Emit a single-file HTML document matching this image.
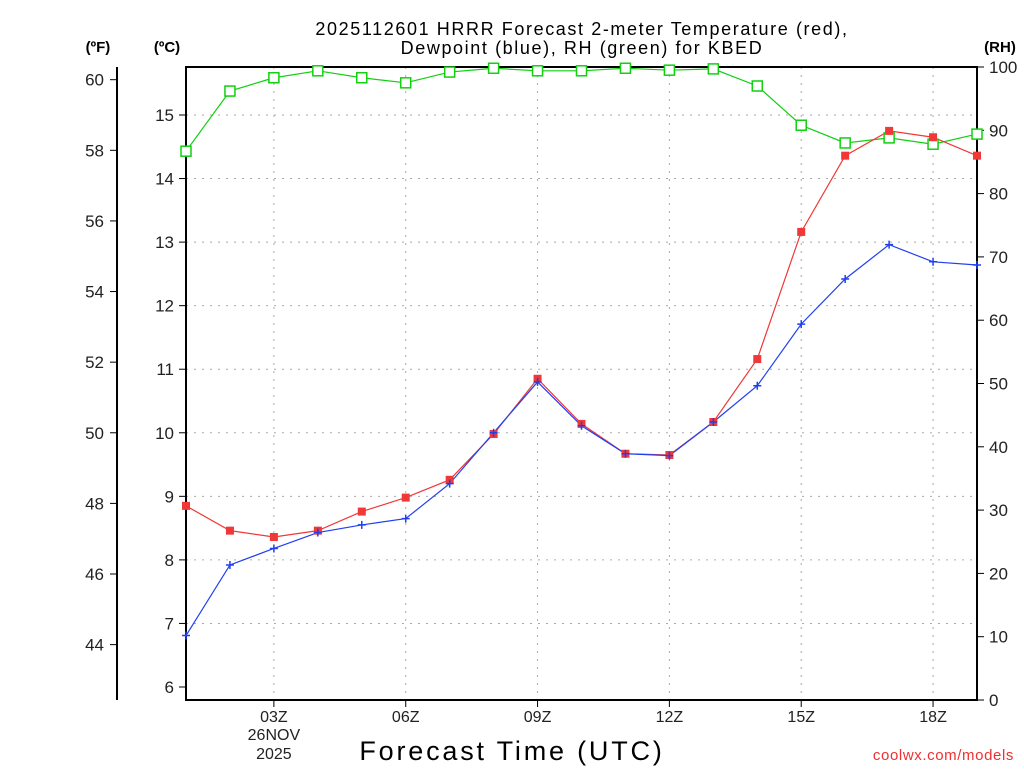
<!DOCTYPE html>
<html><head><meta charset="utf-8"><style>
body{margin:0;background:#fff;width:1024px;height:768px;overflow:hidden}
svg text{font-family:"Liberation Sans",sans-serif}
</style></head><body>
<svg id="chart" width="1024" height="768" xmlns="http://www.w3.org/2000/svg">
<text x="582" y="35" text-anchor="middle" font-size="18" letter-spacing="1.6" fill="#000">2025112601 HRRR Forecast 2-meter Temperature (red),</text>
<text x="582" y="54" text-anchor="middle" font-size="18" letter-spacing="1.6" fill="#000">Dewpoint (blue), RH (green) for KBED</text>
<text x="98" y="52" text-anchor="middle" font-size="15" font-weight="bold">(ºF)</text>
<text x="167" y="52" text-anchor="middle" font-size="15" font-weight="bold">(ºC)</text>
<text x="1000" y="52" text-anchor="middle" font-size="15" font-weight="bold">(RH)</text>
<text x="512" y="760" text-anchor="middle" font-size="27" letter-spacing="2.8">Forecast Time (UTC)</text>
<text x="1014" y="760" text-anchor="end" font-size="15" letter-spacing="0.6" fill="#f03030">coolwx.com/models</text>
<g id="grid"></g><g id="axes"></g><g id="series"></g>
</svg>
<script>
const hours=[1,2,3,4,5,6,7,8,9,10,11,12,13,14,15,16,17,18,19];
const tempC=[8.85,8.46,8.36,8.46,8.76,8.98,9.26,9.98,10.85,10.14,9.67,9.65,10.17,11.16,13.16,14.36,14.75,14.65,14.36];
const dewC=[6.81,7.92,8.18,8.43,8.55,8.65,9.2,10.0,10.8,10.11,9.67,9.64,10.17,10.74,11.71,12.42,12.96,12.69,12.64];
const rh=[86.7,96.2,98.3,99.4,98.3,97.5,99.2,99.8,99.4,99.4,99.8,99.5,99.7,97,90.8,88,88.8,87.8,89.4];
const xTickHours=[3,6,9,12,15,18];
const xTickLabels=["03Z","06Z","09Z","12Z","15Z","18Z"];
const cTicks=[6,7,8,9,10,11,12,13,14,15];
const fTicks=[44,46,48,50,52,54,56,58,60];
const rhTicks=[0,10,20,30,40,50,60,70,80,90,100];
const L=186,R=977,T=67,B=700;
const xs=h=>L+(h-1)*(R-L)/18;
const yC=c=>115-(c-15)*63.555;
const yF=f=>yC((f-32)*5/9);
const yR=r=>B-r*(B-T)/100;
const NS="http://www.w3.org/2000/svg";
function mk(p,tag,a){const e=document.createElementNS(NS,tag);for(const k in a)e.setAttribute(k,a[k]);p.appendChild(e);return e;}
const grid=document.getElementById('grid'),axes=document.getElementById('axes'),ser=document.getElementById('series');
cTicks.forEach(c=>{if(c>6){const l=mk(grid,'line',{x1:L,x2:R,y1:yC(c),y2:yC(c),stroke:'#aaa','stroke-dasharray':'2,6'});}
 mk(axes,'line',{x1:L-7,x2:L,y1:yC(c),y2:yC(c),stroke:'#000'});
 const t=mk(axes,'text',{x:L-12,y:yC(c)+6,'text-anchor':'end','font-size':'17',fill:'#222'});t.textContent=c;
 });
xTickHours.forEach((h,i)=>{const l=mk(grid,'line',{x1:xs(h),x2:xs(h),y1:T,y2:B,stroke:'#aaa','stroke-dasharray':'2,6'});
 
 mk(axes,'line',{x1:xs(h),x2:xs(h),y1:B,y2:B+7,stroke:'#000'});
 const t=mk(axes,'text',{x:xs(h),y:B+22,'text-anchor':'middle','font-size':'16',fill:'#222'});t.textContent=xTickLabels[i];
 });
[["26NOV",740],["2025",759]].forEach(d=>{const t=mk(axes,'text',{x:xs(3),y:d[1],'text-anchor':'middle','font-size':'16',fill:'#222'});t.textContent=d[0];
 });
fTicks.forEach(f=>{mk(axes,'line',{x1:110,x2:117,y1:yF(f),y2:yF(f),stroke:'#000'});
 const t=mk(axes,'text',{x:104,y:yF(f)+6,'text-anchor':'end','font-size':'17',fill:'#222'});t.textContent=f;
 });
rhTicks.forEach(r=>{mk(axes,'line',{x1:R,x2:R+7,y1:yR(r),y2:yR(r),stroke:'#000'});
 const t=mk(axes,'text',{x:R+12,y:yR(r)+6,'font-size':'17',fill:'#222'});t.textContent=r;
 });
mk(axes,'line',{x1:117,x2:117,y1:T,y2:B,stroke:'#000','stroke-width':2});
const fr=mk(axes,'rect',{x:L,y:T,width:R-L,height:B-T,fill:'none',stroke:'#000','stroke-width':2});

function line(vals,yf,col,name){const p=mk(ser,'polyline',{points:vals.map((v,i)=>xs(hours[i])+','+yf(v)).join(' '),fill:'none',stroke:col,'stroke-width':1.2});
 }
line(rh,yR,'#10d010','rh-line');line(tempC,yC,'#f03838','temperature-line');line(dewC,yC,'#2040f0','dewpoint-line');
rh.forEach((v,i)=>{const m=mk(ser,'rect',{x:xs(hours[i])-5,y:yR(v)-5,width:10,height:10,fill:'#fff',stroke:'#10d010','stroke-width':1.5});
 });
tempC.forEach((v,i)=>{const m=mk(ser,'rect',{x:xs(hours[i])-4,y:yC(v)-4,width:8,height:8,fill:'#f03838'});
 });
dewC.forEach((v,i)=>{const x=xs(hours[i]),y=yC(v);const m=mk(ser,'path',{d:`M${x-4},${y}H${x+4}M${x},${y-4}V${y+4}`,stroke:'#2040f0','stroke-width':1.5});
 });
</script>
</body></html>
